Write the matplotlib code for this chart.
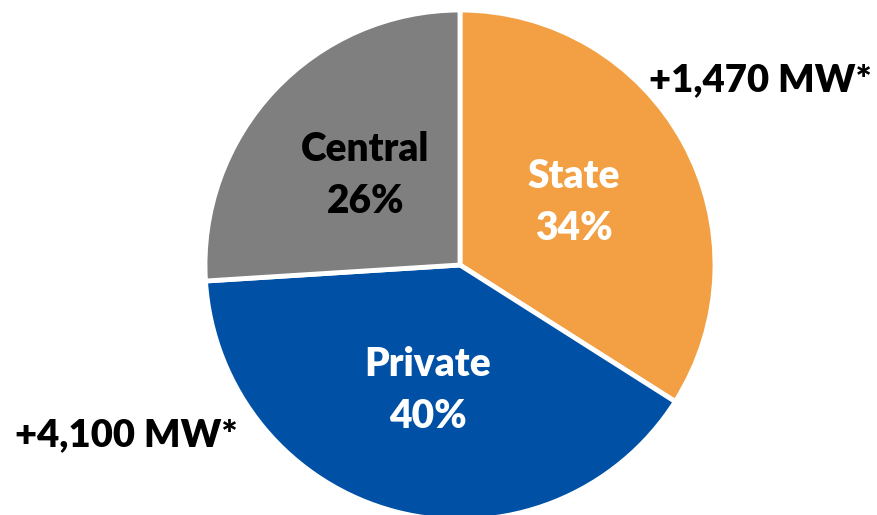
import matplotlib
matplotlib.use("Agg")
import matplotlib.pyplot as plt

categories = ["State", "Private", "Central"]
shares = [34, 40, 26]
colors = ["#F2A043", "#0051A5", "#7F7F7F"]
label_colors = ["white", "white", "black"]
annotations = ["+1,470 MW*", "+4,100 MW*"]

W, H = 877, 515
fig = plt.figure(figsize=(W / 100, H / 100), dpi=100)
cx, cy, r = 460, 265, 255
ax = fig.add_axes([(cx - r) / W, (H - cy - r) / H, 2 * r / W, 2 * r / H])

labels = [f"{c}\n{s}%" for c, s in zip(categories, shares)]
wedges, texts = ax.pie(shares, colors=colors, startangle=90, counterclock=False,
                       labels=labels, labeldistance=0.51,
                       wedgeprops=dict(edgecolor="white", linewidth=3.5),
                       textprops=dict(fontsize=28, fontweight="heavy", family="Lato",
                                      ha="center", va="center", linespacing=1.5))
for t, c in zip(texts, label_colors):
    t.set_color(c)
    t.set_horizontalalignment("center")
ax.set_xlim(-1, 1)
ax.set_ylim(-1, 1)
ax.set_aspect("equal")
ax.axis("off")

fig.text(760 / W, 1 - 80 / H, annotations[0], fontsize=27.5, fontweight="heavy",
         family="Lato", ha="center", va="center", color="black")
fig.text(126 / W, 1 - 435 / H, annotations[1], fontsize=27.5, fontweight="heavy",
         family="Lato", ha="center", va="center", color="black")

fig.savefig("out.png", dpi=100, facecolor="white")
